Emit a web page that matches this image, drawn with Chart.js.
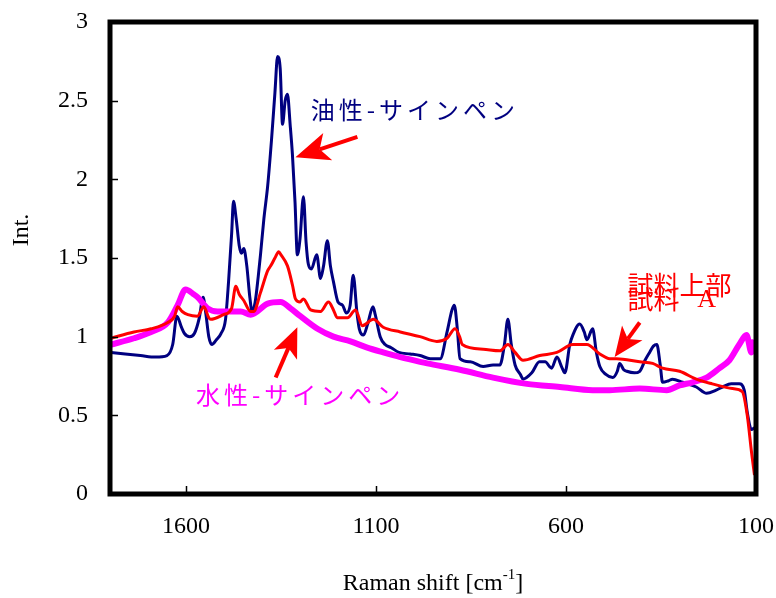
<!DOCTYPE html>
<html>
<head>
<meta charset="utf-8">
<script src="https://cdn.jsdelivr.net/npm/chart.js@4.4.1/dist/chart.umd.min.js"></script>
<style>
  html, body { margin: 0; padding: 0; background: #fff; }
  canvas { display: block; }
</style>
</head>
<body>
<canvas id="ramanChart" width="776" height="598"></canvas>
<script>
// axis ticks
var xTicks = [1600, 1100, 600, 100];
var yTicks = [0, 0.5, 1, 1.5, 2, 2.5, 3];

// 油性-サインペン (navy)
var oilShift = [1797, 1760, 1720, 1680, 1650, 1635, 1624, 1612, 1604, 1590, 1578, 1565, 1555, 1548, 1540, 1532, 1520, 1508, 1496, 1488,
  1480, 1475, 1468, 1460, 1454, 1448, 1440, 1432, 1426, 1418, 1410, 1404, 1395, 1385, 1375, 1366, 1359, 1352, 1346, 1339,
  1333, 1326, 1320, 1313, 1307, 1300, 1291, 1284, 1278, 1270, 1256, 1246, 1238, 1228, 1220, 1212, 1200, 1188, 1178, 1168,
  1160, 1150, 1144, 1133, 1122, 1108, 1102, 1089, 1076, 1060, 1040, 1010, 984, 957, 931, 913, 900, 894, 886, 879,
  852, 818, 792, 774, 762, 753, 744, 734, 720, 713, 690, 670, 655, 638, 624, 610, 603, 590, 582, 564,
  552, 545, 530, 520, 511, 495, 477, 465, 459, 448, 440, 420, 406, 392, 380, 370, 361, 352, 346, 330,
  320, 293, 257, 230, 205, 188, 165, 144, 131, 123, 112, 104];
var oilInt = [0.90, 0.89, 0.88, 0.87, 0.88, 0.95, 1.13, 1.06, 1.02, 1.00, 1.02, 1.12, 1.25, 1.15, 1.00, 0.95, 0.98, 1.02, 1.11, 1.35,
  1.65, 1.86, 1.75, 1.58, 1.53, 1.56, 1.45, 1.25, 1.16, 1.22, 1.38, 1.52, 1.75, 1.96, 2.25, 2.55, 2.78, 2.70, 2.35, 2.50,
  2.54, 2.35, 2.16, 1.85, 1.52, 1.62, 1.89, 1.60, 1.46, 1.43, 1.52, 1.37, 1.45, 1.61, 1.45, 1.35, 1.22, 1.20, 1.15, 1.20,
  1.39, 1.15, 1.05, 1.01, 1.08, 1.19, 1.14, 1.00, 0.95, 0.93, 0.90, 0.89, 0.88, 0.86, 0.86, 1.03, 1.17, 1.20, 1.05, 0.86,
  0.84, 0.81, 0.82, 0.82, 0.95, 1.11, 0.95, 0.82, 0.76, 0.73, 0.77, 0.84, 0.84, 0.80, 0.87, 0.80, 0.77, 0.95, 1.01, 1.08,
  1.03, 0.98, 1.05, 0.90, 0.81, 0.76, 0.74, 0.78, 0.83, 0.79, 0.78, 0.77, 0.78, 0.85, 0.90, 0.94, 0.95, 0.82, 0.71, 0.72,
  0.73, 0.71, 0.68, 0.64, 0.66, 0.68, 0.70, 0.70, 0.66, 0.52, 0.41, 0.42];

// 試料上部 / 試料 A (red)
var sampleShift = [1797, 1737, 1692, 1648, 1630, 1622, 1610, 1595, 1570, 1553, 1540, 1535, 1501, 1480, 1469, 1460, 1448, 1430, 1422, 1404,
  1385, 1377, 1366, 1356, 1350, 1333, 1320, 1312, 1300, 1291, 1272, 1246, 1225, 1212, 1202, 1175, 1154, 1136, 1107, 1081,
  1036, 984, 940, 913, 892, 880, 873, 818, 774, 753, 734, 713, 669, 624, 582, 545, 511, 485, 467, 406,
  372, 346, 301, 257, 215, 162, 136, 123, 112, 104];
var sampleInt = [0.99, 1.03, 1.05, 1.09, 1.13, 1.19, 1.16, 1.14, 1.13, 1.19, 1.12, 1.11, 1.14, 1.18, 1.32, 1.27, 1.23, 1.16, 1.16, 1.28,
  1.42, 1.45, 1.50, 1.54, 1.52, 1.45, 1.33, 1.24, 1.22, 1.24, 1.17, 1.16, 1.22, 1.17, 1.12, 1.12, 1.17, 1.07, 1.11, 1.06,
  1.03, 1.00, 0.97, 0.99, 1.05, 1.00, 0.95, 0.92, 0.91, 0.95, 0.90, 0.85, 0.88, 0.90, 0.95, 0.95, 0.89, 0.86, 0.86, 0.84,
  0.83, 0.80, 0.78, 0.73, 0.70, 0.67, 0.65, 0.50, 0.27, 0.12];

// 水性-サインペン (magenta)
var waterShift = [1797, 1737, 1692, 1648, 1622, 1601, 1580, 1569, 1543, 1517, 1490, 1456, 1430, 1385, 1351, 1325, 1299, 1254, 1212, 1167,
  1123, 1081, 1036, 984, 965, 879, 792, 703, 616, 530, 485, 406, 335, 301, 267, 230, 196, 170, 144, 125,
  112, 104];
var waterInt = [0.95, 0.99, 1.03, 1.09, 1.20, 1.30, 1.27, 1.25, 1.18, 1.16, 1.16, 1.16, 1.14, 1.21, 1.22, 1.18, 1.13, 1.05, 1.00, 0.97,
  0.93, 0.90, 0.87, 0.84, 0.83, 0.79, 0.74, 0.70, 0.68, 0.66, 0.66, 0.67, 0.66, 0.69, 0.71, 0.74, 0.80, 0.85, 0.95, 1.01,
  0.90, 0.98];

function toPoints(xs, ys) {
  return xs.map(function (x, i) { return { x: x, y: ys[i] }; });
}

// frame, inside ticks, axis titles and the notes with arrows
var decorPlugin = {
  id: "decor",
  afterDraw: function (chart) {
    var ctx = chart.ctx;
    var a = chart.chartArea;
    var sx = chart.scales.x;
    var sy = chart.scales.y;
    ctx.save();

    // tick marks pointing inward
    ctx.strokeStyle = "#000";
    ctx.lineWidth = 1.5;
    xTicks.forEach(function (v) {
      var px = Math.round(sx.getPixelForValue(v)) + 0.5;
      ctx.beginPath();
      ctx.moveTo(px, a.bottom);
      ctx.lineTo(px, a.bottom - 8);
      ctx.stroke();
    });
    yTicks.forEach(function (v) {
      var py = Math.round(sy.getPixelForValue(v)) + 0.5;
      ctx.beginPath();
      ctx.moveTo(a.left, py);
      ctx.lineTo(a.left + 8, py);
      ctx.stroke();
    });

    // thick frame
    ctx.lineWidth = 5;
    ctx.strokeRect(a.left, a.top, a.right - a.left, a.bottom - a.top);

    // axis titles
    var serif = "'Liberation Serif', 'Times New Roman', serif";
    ctx.fillStyle = "#000";
    ctx.font = "24px " + serif;
    ctx.textBaseline = "middle";
    ctx.textAlign = "center";
    ctx.save();
    ctx.translate(22, 230);
    ctx.rotate(-Math.PI / 2);
    ctx.fillText("Int.", 0, 0);
    ctx.restore();

    var main = "Raman shift [cm";
    ctx.font = "24px " + serif;
    var w1 = ctx.measureText(main).width;
    ctx.font = "15px " + serif;
    var w2 = ctx.measureText("-1").width;
    ctx.font = "24px " + serif;
    var w3 = ctx.measureText("]").width;
    var x0 = (a.left + a.right) / 2 - (w1 + w2 + w3) / 2;
    ctx.textAlign = "left";
    ctx.textBaseline = "alphabetic";
    ctx.fillText(main, x0, 590);
    ctx.font = "15px " + serif;
    ctx.fillText("-1", x0 + w1, 579);
    ctx.font = "24px " + serif;
    ctx.fillText("]", x0 + w1 + w2, 590);

    // notes
    function note(text, shift, val, color, font) {
      ctx.font = font;
      ctx.fillStyle = color;
      ctx.textAlign = "left";
      ctx.textBaseline = "middle";
      ctx.fillText(text, sx.getPixelForValue(shift), sy.getPixelForValue(val));
    }
    var jp = "'Noto Sans CJK JP', sans-serif";
    ctx.letterSpacing = "4px";
    note("油性-サインペン", 1272, 2.44, "#000080", "24px " + jp);
    note("水性-サインペン", 1574, 0.63, "#FF00FF", "24px " + jp);
    ctx.letterSpacing = "0px";
    note("試料上部", 438, 1.33, "#FF0000", "26px " + jp);
    note("試料", 438, 1.24, "#FF0000", "26px " + jp);
    ctx.font = "26px " + serif;
    ctx.fillStyle = "#FF0000";
    ctx.textAlign = "center";
    ctx.fillText("A", sx.getPixelForValue(230), sy.getPixelForValue(1.23));

    // red arrows
    function arrow(tailShift, tailVal, tipShift, tipVal, head) {
      var x1 = sx.getPixelForValue(tailShift), y1 = sy.getPixelForValue(tailVal);
      var x2 = sx.getPixelForValue(tipShift), y2 = sy.getPixelForValue(tipVal);
      var ang = Math.atan2(y2 - y1, x2 - x1);
      var c = Math.cos(ang), s = Math.sin(ang);
      var bx = x2 - c * head * 0.75, by = y2 - s * head * 0.75;
      ctx.strokeStyle = "#FF0000";
      ctx.fillStyle = "#FF0000";
      ctx.lineWidth = 4;
      ctx.beginPath();
      ctx.moveTo(x1, y1);
      ctx.lineTo(bx, by);
      ctx.stroke();
      var hw = head * 0.42;
      ctx.beginPath();
      ctx.moveTo(x2, y2);
      ctx.lineTo(x2 - c * head - s * hw, y2 - s * head + c * hw);
      ctx.lineTo(bx, by);
      ctx.lineTo(x2 - c * head + s * hw, y2 - s * head - c * hw);
      ctx.closePath();
      ctx.fill();
    }
    arrow(1149, 2.27, 1312, 2.14, 34);
    arrow(1364, 0.74, 1307, 1.06, 30);
    arrow(406, 1.09, 472, 0.87, 30);

    ctx.restore();
  }
};

var tickFont = { family: "'Liberation Serif', 'Times New Roman', serif", size: 24 };

var config = {
  type: "line",
  data: {
    datasets: [
      {
        label: "試料上部",
        data: toPoints(sampleShift, sampleInt),
        borderColor: "#FF0000",
        borderWidth: 3,
      },
      {
        label: "水性-サインペン",
        data: toPoints(waterShift, waterInt),
        borderColor: "#FF00FF",
        borderWidth: 6,
      },
      {
        label: "油性-サインペン",
        data: toPoints(oilShift, oilInt),
        borderColor: "#000080",
        borderWidth: 3,
      },
    ],
  },
  options: {
    responsive: false,
    animation: false,
    layout: { padding: { top: 22, right: 20, left: 0, bottom: 0 } },
    elements: {
      point: { radius: 0 },
      line: { cubicInterpolationMode: "monotone", fill: false },
    },
    plugins: {
      legend: { display: false },
      tooltip: { enabled: false },
    },
    scales: {
      x: {
        type: "linear",
        reverse: true,
        min: 100,
        max: 1800,
        afterBuildTicks: function (scale) {
          scale.ticks = xTicks.map(function (v) { return { value: v }; });
        },
        afterFit: function (scale) {
          scale.height = 104;
          scale.paddingLeft = 0;
          scale.paddingRight = 0;
        },
        grid: { display: false, drawTicks: false },
        border: { display: false },
        ticks: {
          color: "#000",
          font: tickFont,
          padding: 18,
          maxRotation: 0,
          autoSkip: false,
          callback: function (v) { return String(v); },
        },
      },
      y: {
        min: 0,
        max: 3,
        afterBuildTicks: function (scale) {
          scale.ticks = yTicks.map(function (v) { return { value: v }; });
        },
        afterFit: function (scale) {
          scale.width = 110;
          scale.paddingTop = 0;
          scale.paddingBottom = 0;
        },
        grid: { display: false, drawTicks: false },
        border: { display: false },
        ticks: {
          color: "#000",
          font: tickFont,
          padding: 22,
          callback: function (v) { return String(v); },
        },
      },
    },
  },
  plugins: [decorPlugin],
};

var ramanChart = new Chart(document.getElementById("ramanChart"), config);
</script>
</body>
</html>
